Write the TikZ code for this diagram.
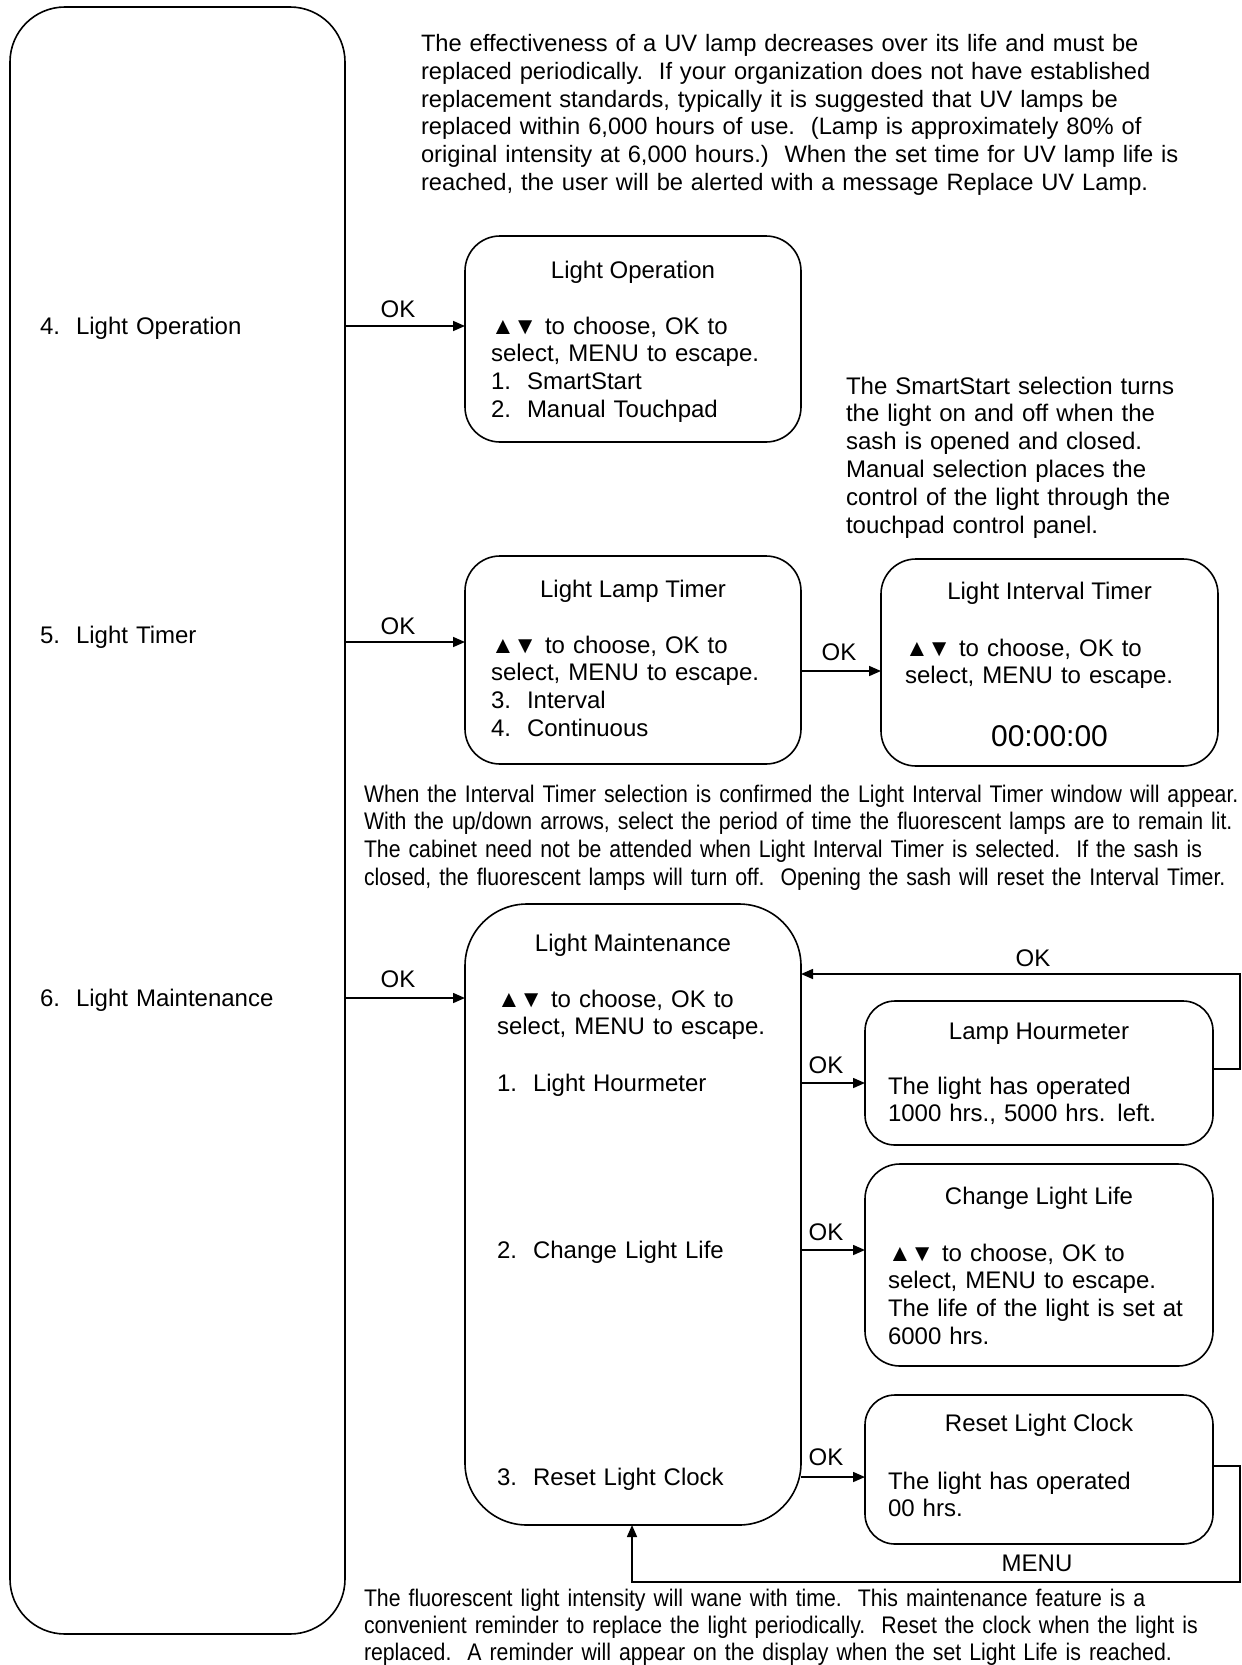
\documentclass[tikz,border=0pt]{standalone}
\usepackage{fontspec}
\setmainfont{Liberation Sans}
\newfontfamily\narrowfont[FakeStretch=0.885]{Liberation Sans}
\newfontfamily\narrowfontb[FakeStretch=0.886]{Liberation Sans}
\usetikzlibrary{arrows.meta}
\newcommand{\updn}{▲\kern-1.5pt▼}
\begin{document}
\begin{tikzpicture}[x=1pt,y=-1pt,
  every node/.style={inner sep=0pt, outer sep=0pt},
  txt/.style={font=\fontsize{24}{27.8}\selectfont, text width=900pt, align=left, anchor=base west},
  ptxt/.style={font=\fontsize{23.7}{27.8}\selectfont, text width=900pt, align=left, anchor=base west},
  ntxt/.style={font=\narrowfont\fontsize{24}{27.8}\selectfont, text width=900pt, align=left, anchor=base west},
  nbtxt/.style={font=\narrowfontb\fontsize{24}{27.2}\selectfont, text width=900pt, align=left, anchor=base west},
  lbl/.style={font=\fontsize{24}{27.8}\selectfont, anchor=base},
  box/.style={draw, line width=1.6pt, rounded corners=#1, rectangle},
  ln/.style={line width=1.6pt},
  arr/.style={line width=1.6pt, -{Triangle[length=12pt,width=10pt]}}
]
\useasboundingbox (0,0) rectangle (1242,1665);

% boxes
\node[box=55pt, minimum width=335pt, minimum height=1627pt] (big) at (177.5,820.5) {};
\node[box=35pt, minimum width=336pt, minimum height=206pt] (lo) at (633,339) {};
\node[box=35pt, minimum width=336pt, minimum height=208pt] (llt) at (633,660) {};
\node[box=35pt, minimum width=337pt, minimum height=207pt] (lit) at (1049.5,662.5) {};
\node[box=62pt, minimum width=336pt, minimum height=621pt] (lm) at (633,1214.5) {};
\node[box=30pt, minimum width=348pt, minimum height=144pt] (lh) at (1039,1073) {};
\node[box=35pt, minimum width=348pt, minimum height=202pt] (cll) at (1039,1265) {};
\node[box=30pt, minimum width=348pt, minimum height=149pt] (rlc) at (1039,1469.5) {};

% top paragraph
\node[ptxt] (para1) at (421,51.5) {The effectiveness of a UV lamp decreases over its life and must be\\
replaced periodically.\ \ If your organization does not have established\\
replacement standards, typically it is suggested that UV lamps be\\
replaced within 6,000 hours of use.\ \ (Lamp is approximately 80\% of\\
original intensity at 6,000 hours.)\ \ When the set time for UV lamp life is\\
reached, the user will be alerted with a message Replace UV Lamp.};

% menu labels in big box
\node[txt] (m4) at (40,334) {4.\ \ Light Operation};
\node[txt] (m5) at (40,643) {5.\ \ Light Timer};
\node[txt] (m6) at (40,1006) {6.\ \ Light Maintenance};

% Light Operation
\node[lbl] (loT) at (633,278) {Light Operation};
\node[txt] (loB) at (491,334) {\updn{} to choose, OK to\\ select, MENU to escape.\\ 1.\ \ SmartStart\\ 2.\ \ Manual Touchpad};

% SmartStart note
\node[txt] (note) at (846,394) {The SmartStart selection turns\\ the light on and off when the\\ sash is opened and closed.\\ Manual selection places the\\ control of the light through the\\ touchpad control panel.};

% Light Lamp Timer
\node[lbl] (lltT) at (633,597) {Light Lamp Timer};
\node[txt] (lltB) at (491,653) {\updn{} to choose, OK to\\ select, MENU to escape.\\ 3.\ \ Interval\\ 4.\ \ Continuous};

% Light Interval Timer
\node[lbl] (litT) at (1049.5,599) {Light Interval Timer};
\node[txt] (litB) at (905,656) {\updn{} to choose, OK to\\ select, MENU to escape.};
\node[font=\fontsize{30}{34}\selectfont, anchor=base] (clock) at (1049.5,746) {00:00:00};

% interval paragraph
\node[ntxt] (para2) at (364,802) {When the Interval Timer selection is confirmed the Light Interval Timer window will appear.\\
With the up/down arrows, select the period of time the fluorescent lamps are to remain lit.\\
The cabinet need not be attended when Light Interval Timer is selected.\ \ If the sash is\\
closed, the fluorescent lamps will turn off.\ \ Opening the sash will reset the Interval Timer.};

% Light Maintenance
\node[lbl] (lmT) at (633,951) {Light Maintenance};
\node[txt] (lmB) at (497,1007) {\updn{} to choose, OK to\\ select, MENU to escape.};
\node[txt] (lm1) at (497,1091) {1.\ \ Light Hourmeter};
\node[txt] (lm2) at (497,1258) {2.\ \ Change Light Life};
\node[txt] (lm3) at (497,1485) {3.\ \ Reset Light Clock};

% Lamp Hourmeter
\node[lbl] (lhT) at (1039,1039) {Lamp Hourmeter};
\node[txt] (lhB) at (888,1094) {The light has operated\\ 1000 hrs., 5000 hrs. left.};

% Change Light Life
\node[lbl] (cllT) at (1039,1204) {Change Light Life};
\node[txt] (cllB) at (888,1261) {\updn{} to choose, OK to\\ select, MENU to escape.\\ The life of the light is set at\\ 6000 hrs.};

% Reset Light Clock
\node[lbl] (rlcT) at (1039,1431) {Reset Light Clock};
\node[txt] (rlcB) at (888,1489) {The light has operated\\ 00 hrs.};

% bottom paragraph
\node[nbtxt] (para3) at (364,1606) {The fluorescent light intensity will wane with time.\ \ This maintenance feature is a\\
convenient reminder to replace the light periodically.\ \ Reset the clock when the light is\\
replaced.\ \ A reminder will appear on the display when the set Light Life is reached.};

% connectors
\coordinate (p1) at (345,326);
\coordinate (p2) at (345,642);
\coordinate (p3) at (345,998);
\coordinate (p4) at (801,671);
\coordinate (p5) at (801,1083);
\coordinate (p6) at (801,1250);
\coordinate (p7) at (801,1477);
\draw[arr] (p1) -- (p1 -| lo.west);
\draw[arr] (p2) -- (p2 -| llt.west);
\draw[arr] (p3) -- (p3 -| lm.west);
\draw[arr] (p4) -- (p4 -| lit.west);
\draw[arr] (p5) -- (p5 -| lh.west);
\draw[arr] (p6) -- (p6 -| cll.west);
\draw[arr] (p7) -- (p7 -| rlc.west);

\node[lbl] (ok1) at (398,317) {OK};
\node[lbl] (ok2) at (398,634) {OK};
\node[lbl] (ok3) at (398,987) {OK};
\node[lbl] (ok4) at (839,660) {OK};
\node[lbl] (ok5) at (826,1073) {OK};
\node[lbl] (ok6) at (826,1240) {OK};
\node[lbl] (ok7) at (826,1465) {OK};

% feedback loops
\coordinate (r1) at (1240,1069);
\coordinate (c1) at (1240,974);
\draw[arr] (lh.east |- r1) -- (r1) -- (c1) -- (c1 -| lm.east);
\node[lbl] (ok8) at (1033,966) {OK};

\coordinate (r2) at (1240,1466);
\coordinate (c2) at (1240,1582);
\coordinate (c3) at (632,1582);
\draw[arr] (rlc.east |- r2) -- (r2) -- (c2) -- (c3) -- (c3 |- lm.south);
\node[lbl] (menu) at (1037,1571) {MENU};
\end{tikzpicture}
\end{document}
